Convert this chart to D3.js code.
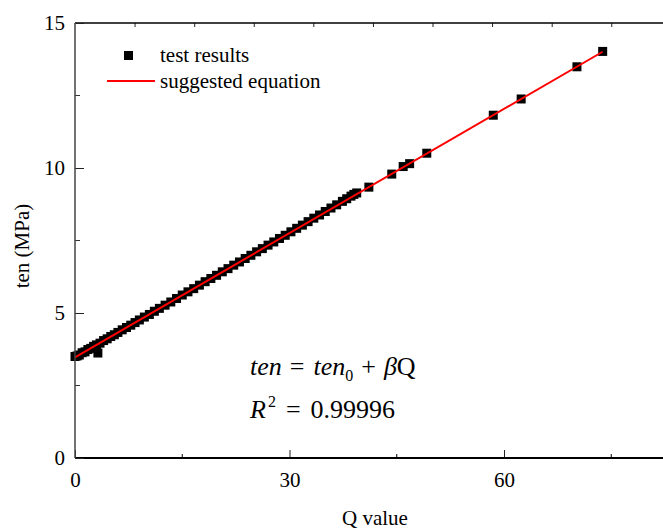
<!DOCTYPE html>
<html><head><meta charset="utf-8">
<script src="https://cdn.jsdelivr.net/npm/d3@7"></script>
<style>body{margin:0;background:#fff}svg{display:block}</style>
</head><body>
<svg id="c" width="663" height="530" font-family="'Liberation Serif', 'DejaVu Serif', 'Times New Roman', serif"></svg>
<script>
// Test results (Q value, ten in MPa)
const qValues = [0,0.3,0.6,1.0,1.4,1.8,2.2,2.6,3.0,3.2,3.5,4.0,4.5,5.0,5.5,6.0,6.6,7.2,7.8,8.4,9.0,9.7,10.4,11.1,11.8,12.6,13.4,14.2,15.0,15.8,16.6,17.4,18.2,19.0,19.8,20.6,21.4,22.2,23.0,23.8,24.6,25.4,26.2,27.0,27.8,28.6,29.4,30.2,31.0,31.8,32.6,33.4,34.2,35.0,35.8,36.6,37.4,38.0,38.6,39.0,39.4,41.1,44.3,45.9,46.8,49.2,58.5,62.4,70.2,73.8];
const tenValues = [3.50,3.52,3.55,3.63,3.66,3.74,3.78,3.85,3.90,3.62,3.96,4.05,4.11,4.19,4.25,4.33,4.42,4.50,4.58,4.67,4.76,4.86,4.95,5.06,5.16,5.27,5.38,5.50,5.62,5.73,5.84,5.96,6.08,6.19,6.30,6.42,6.53,6.65,6.76,6.88,6.99,7.11,7.22,7.34,7.45,7.57,7.68,7.80,7.92,8.03,8.15,8.27,8.38,8.50,8.62,8.73,8.85,8.94,9.03,9.09,9.14,9.34,9.79,10.05,10.15,10.51,11.82,12.38,13.49,14.02];
// Suggested equation ten = ten0 + beta*Q
const ten0 = 3.47;
const beta = 0.1428;
const fitQ = [0, 73.8];
const xTicks = [0, 30, 60];
const xMinor = [15, 45, 75];
const yTicks = [0, 5, 10, 15];
const yMinor = [2.5, 7.5, 12.5];
const topTicks = [8.33,16.67,25,33.33,41.67,50,58.33,66.67,75];

const FONT = "'Liberation Serif', 'DejaVu Serif', 'Times New Roman', serif";
const svg = d3.select("#c");
const L = 75, B = 458, T = 23;
const x = d3.scaleLinear().domain([0, 85]).range([L, L + 85 * 7.15]);
const y = d3.scaleLinear().domain([0, 15]).range([B, T]);

// markers
svg.append("g").selectAll("rect").data(qValues.map((q, i) => [q, tenValues[i]]))
  .join("rect")
  .attr("x", d => x(d[0]) - 4.5).attr("y", d => y(d[1]) - 4.5)
  .attr("width", 9).attr("height", 9).attr("fill", "#000");

// fit line
const line = d3.line().x(d => x(d)).y(d => y(ten0 + beta * d));
svg.append("path").attr("d", line(fitQ)).attr("stroke", "#ff0000").attr("stroke-width", 2).attr("fill", "none");

// axes
const gx = svg.append("g").attr("transform", `translate(0,${B})`)
  .call(d3.axisBottom(x).tickValues(xTicks).tickSize(-8).tickPadding(14).tickFormat(d3.format("d")));
gx.select(".domain").remove();
gx.selectAll(".mn").data(xMinor).join("line").attr("class", "mn")
  .attr("x1", d => x(d)).attr("x2", d => x(d)).attr("y1", 0).attr("y2", -4).attr("stroke", "#000");
svg.append("line").attr("x1", L).attr("x2", 663).attr("y1", B).attr("y2", B).attr("stroke", "#000").attr("stroke-width", 2);

const gt = svg.append("g").attr("transform", `translate(0,${T})`)
  .call(d3.axisTop(x).tickValues(topTicks).tickSize(-4).tickFormat(""));
gt.select(".domain").remove();
svg.append("line").attr("x1", L).attr("x2", 663).attr("y1", T).attr("y2", T).attr("stroke", "#000").attr("stroke-width", 1.5);

const gy = svg.append("g").attr("transform", `translate(${L},0)`)
  .call(d3.axisLeft(y).tickValues(yTicks).tickSize(-9).tickPadding(10).tickFormat(d3.format("d")));
gy.select(".domain").remove();
gy.selectAll(".mn").data(yMinor).join("line").attr("class", "mn")
  .attr("x1", 0).attr("x2", 5).attr("y1", d => y(d)).attr("y2", d => y(d)).attr("stroke", "#333");
svg.append("line").attr("x1", L).attr("x2", L).attr("y1", T).attr("y2", B).attr("stroke", "#444").attr("stroke-width", 1.5);

svg.selectAll("g").attr("font-family", FONT);
svg.selectAll(".tick text").attr("font-size", 21).attr("fill", "#000");
svg.selectAll(".tick line").attr("stroke", "#222");

// axis titles
svg.append("text").attr("font-family", FONT).attr("x", 375).attr("y", 525).attr("text-anchor", "middle").attr("font-size", 21).text("Q value");
svg.append("text").attr("font-family", FONT).attr("transform", "translate(29,246) rotate(-90)").attr("text-anchor", "middle").attr("font-size", 21).text("ten (MPa)");

// legend
svg.append("rect").attr("x", 124).attr("y", 51).attr("width", 9).attr("height", 9).attr("fill", "#000");
svg.append("text").attr("font-family", FONT).attr("x", 160).attr("y", 62).attr("font-size", 21).text("test results");
svg.append("line").attr("x1", 107).attr("x2", 155).attr("y1", 81).attr("y2", 81).attr("stroke", "#ff0000").attr("stroke-width", 2);
svg.append("text").attr("font-family", FONT).attr("x", 160).attr("y", 88).attr("font-size", 21).text("suggested equation");

// equation
const eq = svg.append("text").attr("font-family", FONT).attr("x", 250).attr("y", 375).attr("font-size", 26);
eq.append("tspan").attr("font-style", "italic").text("ten");
eq.append("tspan").attr("dx", 8).text("=");
eq.append("tspan").attr("dx", 9).attr("font-style", "italic").text("ten");
eq.append("tspan").attr("font-size", 16).attr("dy", 6).text("0");
eq.append("tspan").attr("dy", -6).attr("dx", 8).text("+");
eq.append("tspan").attr("dx", 8).attr("font-style", "italic").text("β");
eq.append("tspan").text("Q");
const r2 = svg.append("text").attr("font-family", FONT).attr("x", 250).attr("y", 418).attr("font-size", 26);
r2.append("tspan").attr("font-style", "italic").text("R");
r2.append("tspan").attr("font-size", 16).attr("dy", -11).attr("dx", 2).text("2");
r2.append("tspan").attr("dy", 11).attr("dx", 10).text("=");
r2.append("tspan").attr("dx", 10).text("0.99996");
</script>
</body></html>
